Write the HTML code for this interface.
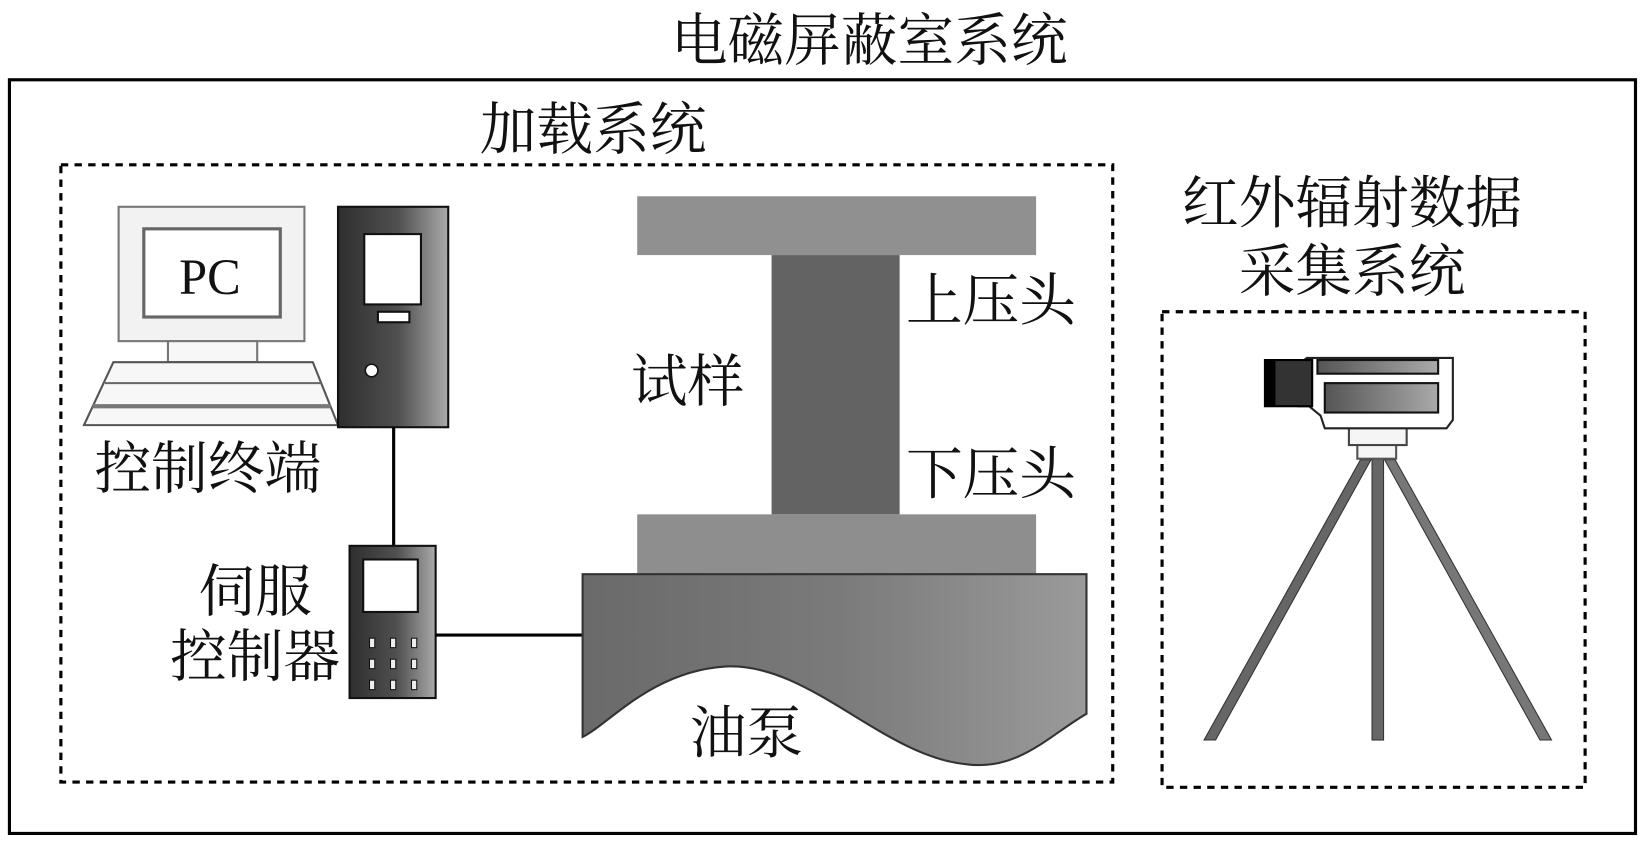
<!DOCTYPE html>
<html><head><meta charset="utf-8"><style>
html,body{margin:0;padding:0;background:#fff}
svg{display:block}
text{font-family:"Liberation Serif","Noto Serif CJK SC","Noto Sans CJK SC",serif;fill:#111}
</style></head><body>
<svg width="1646" height="845" viewBox="0 0 1568 805" preserveAspectRatio="none" xmlns="http://www.w3.org/2000/svg">
<defs>
<linearGradient id="dk" x1="0" x2="1" y1="0" y2="0"><stop offset="0" stop-color="#2e2e2e"/><stop offset="0.55" stop-color="#505050"/><stop offset="1" stop-color="#aaaaaa"/></linearGradient>
<linearGradient id="pump" x1="0" x2="1" y1="0" y2="0"><stop offset="0" stop-color="#6a6a6a"/><stop offset="0.5" stop-color="#7a7a7a"/><stop offset="1" stop-color="#9a9a9a"/></linearGradient>
<linearGradient id="bar" x1="0" x2="1"><stop offset="0" stop-color="#555"/><stop offset="1" stop-color="#aaa"/></linearGradient>
</defs>
<text x="828" y="57" font-size="54" text-anchor="middle">电磁屏蔽室系统</text>
<rect x="9" y="76" width="1549" height="718" fill="none" stroke="#000" stroke-width="3"/>
<text x="565" y="142" font-size="54" text-anchor="middle">加载系统</text>
<rect x="58" y="157" width="1002" height="588" fill="none" stroke="#000" stroke-width="3" stroke-dasharray="7,6"/>
<rect x="113" y="197" width="177" height="128" fill="#f2f2f2" stroke="#777" stroke-width="2"/>
<rect x="137" y="218" width="130" height="84" fill="#fff" stroke="#666" stroke-width="3"/>
<text x="200" y="280" font-size="48" text-anchor="middle">PC</text>
<rect x="160" y="325" width="85" height="20" fill="#f7f7f7" stroke="#777" stroke-width="2"/>
<polygon points="108,345 298,345 322,405 80,405" fill="#f7f7f7" stroke="#555" stroke-width="2"/>
<line x1="100" y1="365" x2="306" y2="365" stroke="#666" stroke-width="2"/>
<line x1="88" y1="387" x2="315" y2="387" stroke="#777" stroke-width="4"/>
<rect x="322" y="197" width="105" height="210" fill="url(#dk)" stroke="#111" stroke-width="2"/>
<rect x="347" y="223" width="54" height="67" fill="#fff" stroke="#111" stroke-width="2"/>
<rect x="360" y="297" width="30" height="10" fill="#fff" stroke="#111" stroke-width="2"/>
<circle cx="354" cy="353" r="6" fill="#fff" stroke="#111" stroke-width="1.5"/>
<text x="198" y="465" font-size="54" text-anchor="middle">控制终端</text>
<line x1="375" y1="407" x2="375" y2="520" stroke="#000" stroke-width="3"/>
<rect x="333" y="520" width="82" height="145" fill="url(#dk)" stroke="#111" stroke-width="2"/>
<rect x="346" y="533" width="52" height="50" fill="#fff" stroke="#111" stroke-width="2"/>
<g fill="#eee" stroke="#111" stroke-width="1">
<rect x="352" y="608" width="5" height="9"/><rect x="372" y="608" width="5" height="9"/><rect x="392" y="608" width="5" height="9"/>
<rect x="352" y="628" width="5" height="9"/><rect x="372" y="628" width="5" height="9"/><rect x="392" y="628" width="5" height="9"/>
<rect x="352" y="648" width="5" height="9"/><rect x="372" y="648" width="5" height="9"/><rect x="392" y="648" width="5" height="9"/>
</g>
<text x="243" y="582" font-size="54" text-anchor="middle">伺服</text>
<text x="243" y="644" font-size="54" text-anchor="middle">控制器</text>
<line x1="415" y1="605" x2="555" y2="605" stroke="#000" stroke-width="3"/>
<rect x="607" y="187" width="380" height="56" fill="#909090"/>
<rect x="735" y="243" width="122" height="247" fill="#636363"/>
<rect x="607" y="490" width="380" height="57" fill="#8e8e8e"/>
<path d="M555,547 L1035,547 L1035,680 C1000,700 970,735 920,728 C840,720 770,630 690,635 C620,640 580,690 555,702 Z" fill="url(#pump)" stroke="#333" stroke-width="2"/>
<text x="944" y="305" font-size="54" text-anchor="middle">上压头</text>
<text x="944" y="470" font-size="54" text-anchor="middle">下压头</text>
<text x="655" y="382" font-size="54" text-anchor="middle">试样</text>
<text x="711" y="717" font-size="54" text-anchor="middle">油泵</text>
<text x="1288" y="212" font-size="54" text-anchor="middle">红外辐射数据</text>
<text x="1288" y="277" font-size="54" text-anchor="middle">采集系统</text>
<rect x="1107" y="297" width="403" height="453" fill="none" stroke="#000" stroke-width="3" stroke-dasharray="7,6"/>
<polygon points="1296,438 1306,438 1158,705 1147,705" fill="#666" stroke="#333" stroke-width="1"/>
<polygon points="1319,438 1329,438 1478,705 1467,705" fill="#777" stroke="#333" stroke-width="1"/>
<rect x="1307" y="436" width="11" height="269" fill="#666" stroke="#333" stroke-width="1"/>
<rect x="1293" y="423" width="37" height="14" fill="#f5f5f5" stroke="#555" stroke-width="2"/>
<rect x="1285" y="405" width="55" height="19" fill="#f5f5f5" stroke="#444" stroke-width="2"/>
<path d="M1237,347 L1245,341 L1384,341 L1384,400 L1378,408 L1262,408 L1258,396 L1247,387 L1237,387 Z" fill="#fff" stroke="#222" stroke-width="2"/>
<rect x="1205" y="343" width="45" height="44" fill="#333" stroke="#000" stroke-width="2"/>
<rect x="1205" y="343" width="10" height="44" fill="#000"/>
<rect x="1255" y="343" width="115" height="13" fill="url(#bar)" stroke="#111" stroke-width="2"/>
<rect x="1262" y="365" width="108" height="28" fill="url(#bar)" stroke="#111" stroke-width="2"/>
</svg>
</body></html>
